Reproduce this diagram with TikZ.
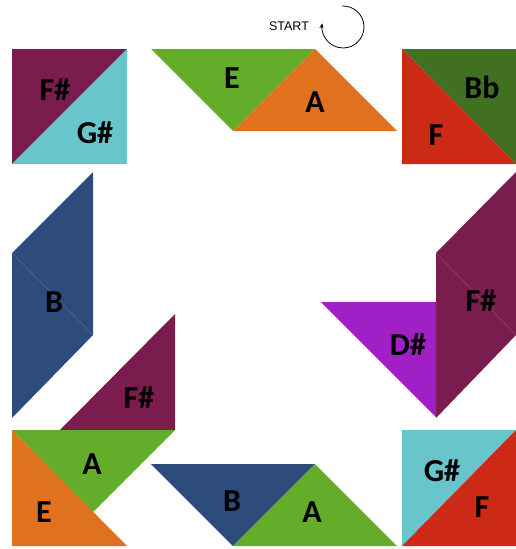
\documentclass[tikz,border=0pt]{standalone}
\usepackage{fontspec}
\setmainfont{Carlito}
\newfontfamily\startfont{Liberation Sans}
\usetikzlibrary{arrows.meta}

\definecolor{plum}{HTML}{7B1C4E}
\definecolor{aqua}{HTML}{68C5CC}
\definecolor{leaf}{HTML}{64AD2A}
\definecolor{carrot}{HTML}{E0711F}
\definecolor{moss}{HTML}{417020}
\definecolor{brick}{HTML}{CC2916}
\definecolor{navy}{HTML}{2D4C7B}
\definecolor{violet}{HTML}{A11FC6}

\tikzset{
	note/.style={font=\bfseries\fontsize{32}{32}\selectfont, text=black, inner sep=0pt},
	seam/.style={line width=0.4pt}
}

\begin{document}
\begin{tikzpicture}[x=1pt, y=-1pt]
		\useasboundingbox (0,0) rectangle (516,549);

		% Start marker
		\node[font=\startfont\fontsize{12.5}{12.5}\selectfont, inner sep=0pt] (start) at (289,26) {START};
		\draw[-{Stealth[length=5pt,width=4pt]}, line width=0.8pt] (343,27) ++(-92:21) arc[start angle=-92, end angle=190, radius=21];

		% Top left square (F#, G#)
		\fill[plum] (12,49) -- (127,49) -- (12,164) -- cycle;
		\fill[aqua] (127,49) -- (127,164) -- (12,164) -- cycle;
		\node[note] (fsA) at (55,90) {F\#};
		\node[note] (gsA) at (95,133) {G\#};

		% Top middle (E, A)
		\fill[leaf] (151,49) -- (315,49) -- (233,131) -- cycle;
		\fill[carrot] (233,131) -- (315,49) -- (397,131) -- cycle;
		\node[note] (eA) at (232,78) {E};
		\node[note] (aA) at (315,102) {A};

		% Top right square (Bb, F)
		\fill[moss] (402,49) -- (516,49) -- (516,164) -- cycle;
		\fill[brick] (402,49) -- (516,164) -- (402,164) -- cycle;
		\node[note] (bbA) at (482,87) {Bb};
		\node[note] (fA) at (436,135) {F};

		% Left side (B)
		\fill[navy] (12,253) -- (93,172) -- (93,335) -- (12,418) -- cycle;
		\draw[seam, navy!80!white] (12,253) -- (93,335);
		\node[note] (bA) at (54,302) {B};

		% Left side (F#)
		\fill[plum] (175,314) -- (175,430) -- (60,430) -- cycle;
		\node[note] (fsB) at (139,398) {F\#};

		% Bottom left (A, E)
		\fill[leaf] (12,430) -- (175,430) -- (93,512) -- cycle;
		\fill[carrot] (12,430) -- (127,546) -- (12,546) -- cycle;
		\node[note] (aB) at (92,464) {A};
		\node[note] (eB) at (44,512) {E};

		% Bottom middle (B, A)
		\fill[navy] (151,464) -- (315,464) -- (233,546) -- cycle;
		\fill[leaf] (233,546) -- (315,464) -- (397,546) -- cycle;
		\node[note] (bB) at (232,501) {B};
		\node[note] (aC) at (312,512) {A};

		% Bottom right square (G#, F)
		\fill[aqua] (402,430) -- (516,430) -- (402,546) -- cycle;
		\fill[brick] (516,430) -- (516,546) -- (402,546) -- cycle;
		\node[note] (gsB) at (442,471) {G\#};
		\node[note] (fB) at (482,507) {F};

		% Right side (F#, D#)
		\fill[plum] (436,253) -- (516,172) -- (516,335) -- (436,418) -- cycle;
		\draw[seam, plum!80!white] (436,253) -- (516,335);
		\fill[violet] (321,302) -- (436,302) -- (436,417) -- cycle;
		\node[note] (fsC) at (481,301) {F\#};
		\node[note] (dsA) at (408,345) {D\#};
	\end{tikzpicture}
\end{document}
